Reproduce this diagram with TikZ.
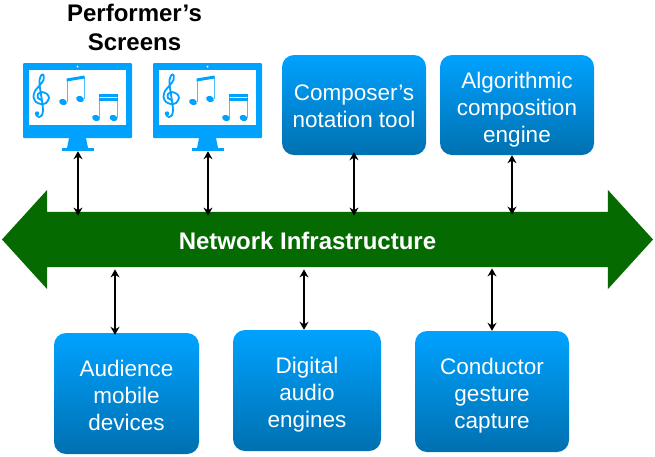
\documentclass[tikz,border=0pt]{standalone}
\usepackage{fontspec}
\setmainfont{Liberation Sans}
\usetikzlibrary{shapes.arrows}
\usetikzlibrary{arrows.meta}
\definecolor{macblue}{HTML}{00A2FF}
\definecolor{macdeep}{HTML}{0070B0}
\definecolor{busgreen}{HTML}{056B00}
\newcommand{\drop}[1]{\rule{0pt}{#1}}
\tikzset{
    box/.style={rectangle, rounded corners=12pt, top color=macblue, bottom color=macdeep, text=white, align=center, font=\fontsize{22.5}{27}\selectfont},
    busarrow/.style={double arrow, fill=busgreen, inner sep=0pt, minimum height=651pt, double arrow head extend=22pt, double arrow tip angle=95.4},
    link/.style={{Stealth[length=8pt,width=9pt]}-{Stealth[length=8pt,width=9pt]}, line width=1.2pt, black},
    monitorslot/.style={rectangle, inner sep=0pt, minimum width=109pt, minimum height=88pt},
    monitor/.pic={
        \fill[macblue, rounded corners=1pt] (0,0) rectangle (109,75); % body
        \fill[white] (6,7) rectangle (103,62); % glass
        \fill[white] (54.5,3.5) circle (1);
        \fill[macblue] (46,75) -- (63,75) -- (65,85) -- (44,85) -- cycle; % stand
        \fill[macblue] (39,85) rectangle (71,88);
        % clef
        \draw[macblue, line width=1.8pt] plot[smooth] coordinates {(18.5,37) (15,35) (15,31) (19,29) (24,31) (26,35) (23,40) (18,41) (13,39) (10.5,34) (12,28) (17,22) (20.5,17) (20.5,12) (18.5,12) (16.5,17) (17,25) (19,38) (20,47) (19,52) (16,54) (13,52)};
        \fill[macblue] (14,50.5) circle (2.2);
        % beamed pair
        \draw[macblue!70, line width=1pt] (44,17) -- (44,39) (61,14) -- (61,36);
        \fill[macblue] (40,39) ellipse[x radius=4, y radius=3, rotate=-20];
        \fill[macblue] (57,36) ellipse[x radius=4, y radius=3, rotate=-20];
        \fill[macblue] (43.5,15.5) -- (61.5,12.5) -- (61.5,15.5) -- (43.5,18.5) -- cycle;
        % double beamed pair
        \draw[macblue!70, line width=1pt] (76,31) -- (76,55) (94,31) -- (94,55);
        \fill[macblue] (73,55) ellipse[x radius=4, y radius=3, rotate=-20];
        \fill[macblue] (90.5,55) ellipse[x radius=4, y radius=3, rotate=-20];
        \fill[macblue] (75.5,31) rectangle (94.5,33.7);
        \fill[macblue] (75.5,35) rectangle (94.5,37.7);
    },
}
\begin{document}
\begin{tikzpicture}[x=1pt, y=-1pt]
    \useasboundingbox (0,0) rectangle (655,456);
    \node[busarrow] (bus) at (327.5,239.5) {\rule{0pt}{55pt}};
    \node[text=white, font=\fontsize{24}{29}\selectfont\bfseries] (buslabel) at (307.5,240.5) {Network Infrastructure};

    \node[font=\fontsize{24}{29}\selectfont\bfseries, align=center] (performers) at (134.5,27.5) {Performer’s\\Screens};
    \node[monitorslot] (screenA) at (78,107) {};
    \node[monitorslot] (screenB) at (208,107) {};
    \pic at (23,63) {monitor};
    \pic at (153,63) {monitor};

    \node[box, minimum width=144pt, minimum height=100pt] (composer) at (354,105) {\drop{19pt}Composer’s\\notation tool};
    \node[box, minimum width=154pt, minimum height=100pt] (algorithmic) at (517,105) {\drop{25pt}Algorithmic\\composition\\engine};
    \node[box, minimum width=145pt, minimum height=121pt] (audience) at (126.5,393.5) {\drop{21pt}Audience\\mobile\\devices};
    \node[box, minimum width=148pt, minimum height=121pt] (digital) at (307,390.5) {\drop{25pt}Digital\\audio\\engines};
    \node[box, minimum width=154pt, minimum height=121pt] (conductor) at (492,391.5) {\drop{25pt}Conductor\\gesture\\capture};

    % top row, tips run a little past the edge of the bus
    \draw[link] (screenA.south) -- ([yshift=-4pt]screenA.south |- bus.north);
    \draw[link] (screenB.south) -- ([yshift=-4pt]screenB.south |- bus.north);
    \draw[link] ([yshift=3pt]composer.south) -- ([yshift=-4pt]composer.south |- bus.north);
    \draw[link] ([xshift=-5pt]algorithmic.south) -- ([xshift=-5pt,yshift=-3pt]algorithmic.south |- bus.north);
    % bottom row
    \draw[link] ([xshift=-11.5pt,yshift=-2pt]audience.north |- bus.south) -- ([xshift=-11.5pt,yshift=-2pt]audience.north);
    \draw[link] ([xshift=-3pt,yshift=-2pt]digital.north |- bus.south) -- ([xshift=-3pt]digital.north);
    \draw[link] ([yshift=-1pt]conductor.north |- bus.south) -- (conductor.north);
\end{tikzpicture}
\end{document}
